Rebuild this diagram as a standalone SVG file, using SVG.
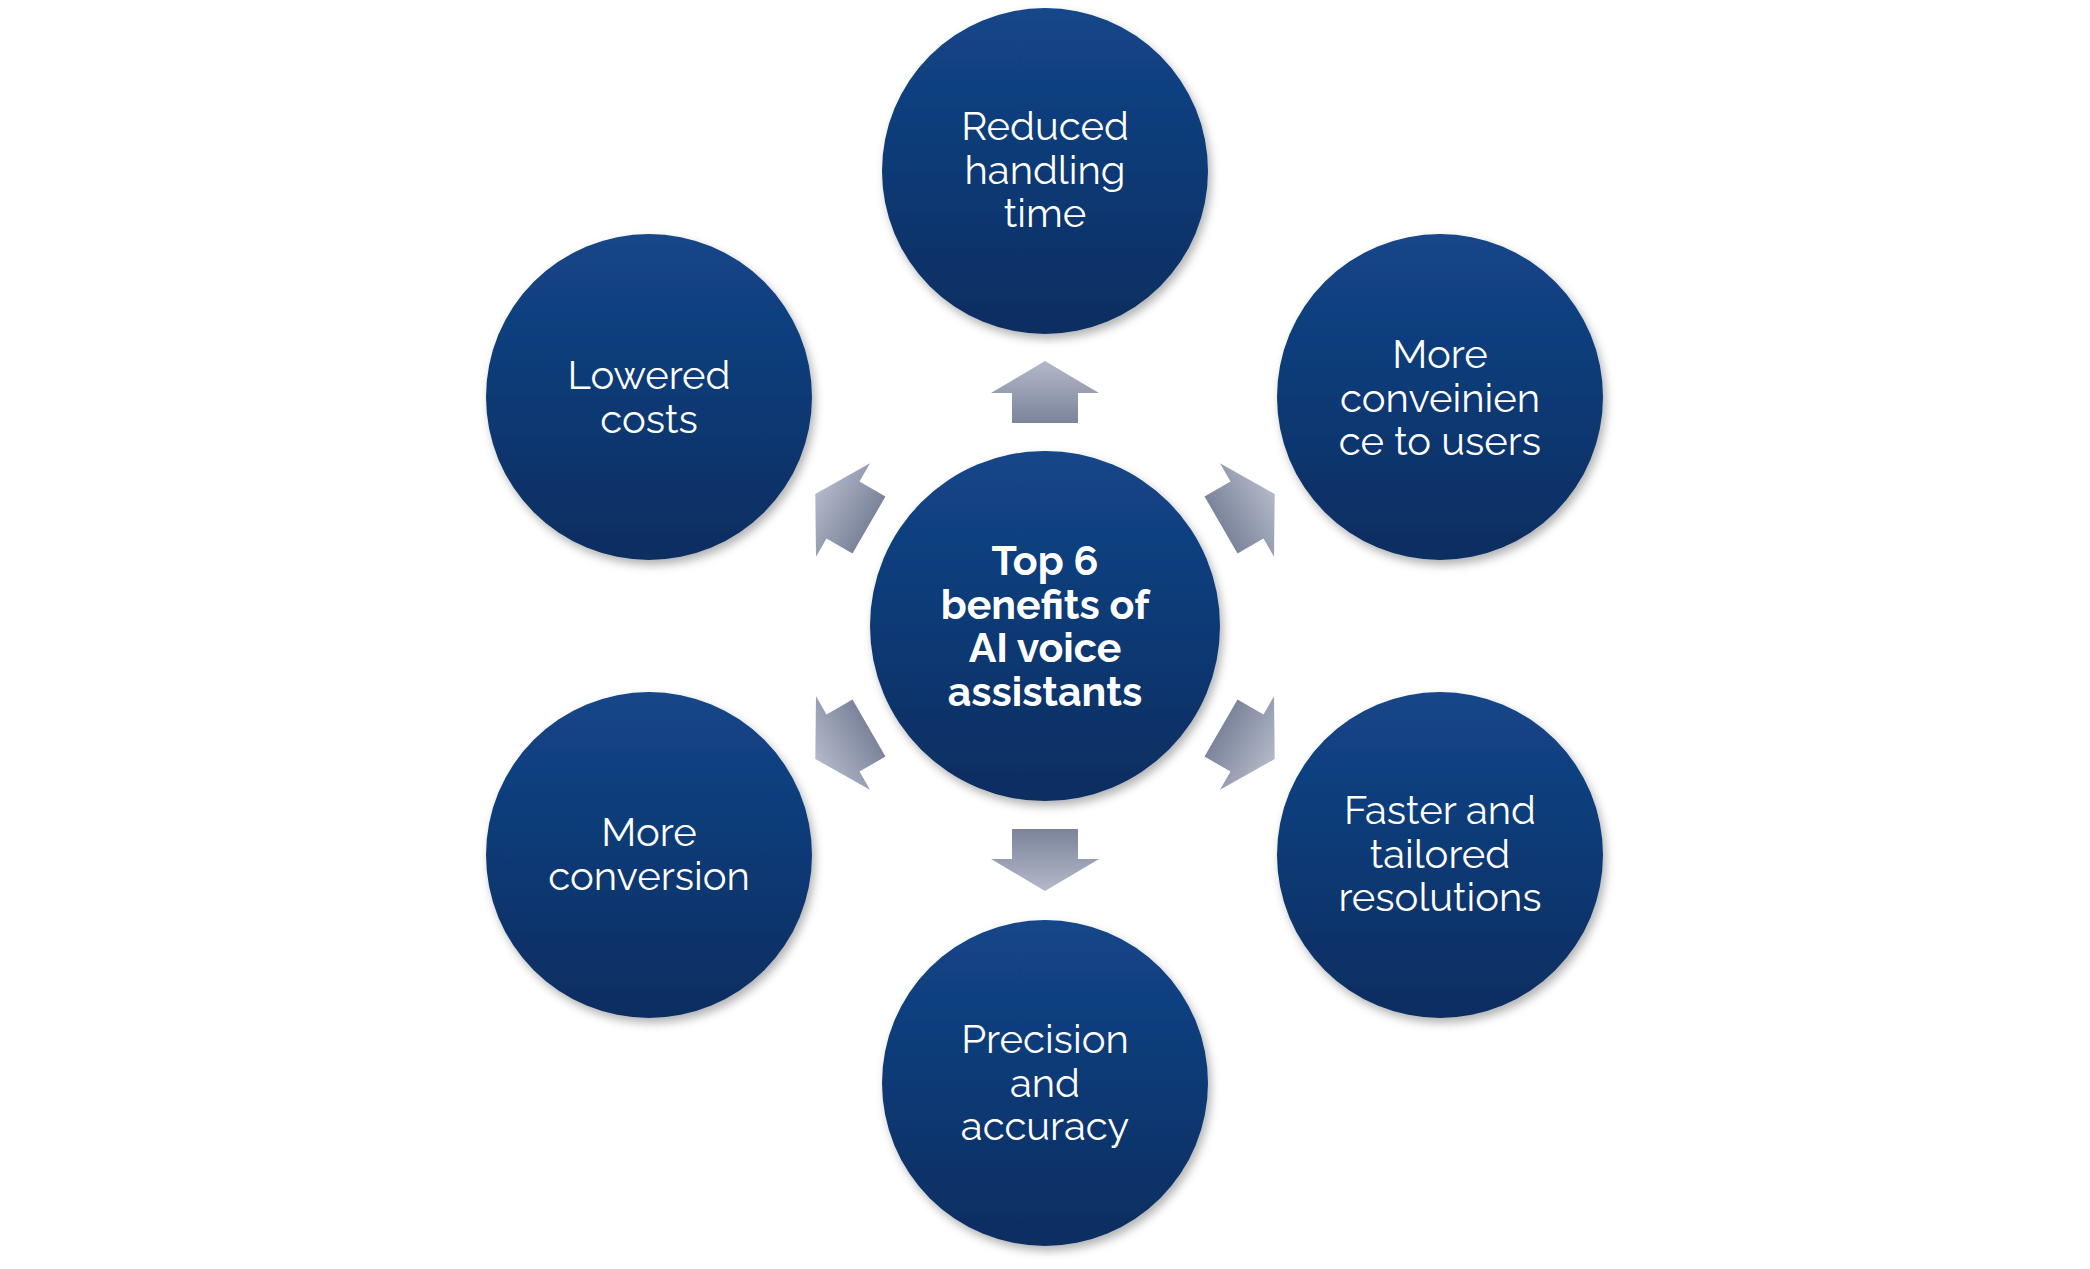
<svg xmlns="http://www.w3.org/2000/svg" width="2090" height="1269" viewBox="0 0 2090 1269">
<defs>
<linearGradient id="cg" x1="0" y1="0" x2="0" y2="1"><stop offset="0" stop-color="#134689"/><stop offset="1" stop-color="#0b2d60"/></linearGradient>
<linearGradient id="ag" x1="0" y1="0" x2="1" y2="0"><stop offset="0" stop-color="#7c849b"/><stop offset="1" stop-color="#b3b9c9"/></linearGradient>
<filter id="sh" x="-20%" y="-20%" width="140%" height="140%"><feDropShadow dx="3" dy="5" stdDeviation="5" flood-color="#000" flood-opacity="0.3"/></filter>
<path id="arr" d="M-30,-33 L0,-33 L0,-54 L32,0 L0,54 L0,33 L-30,33 Z" fill="url(#ag)"/>
</defs>
<style>
circle{fill:url(#cg);filter:url(#sh)}
text{font-family:Raleway,"Open Sans",Lato,sans-serif;fill:#fff;font-size:40px;text-anchor:middle;dominant-baseline:central}
.b{font-weight:bold;font-size:41px}
</style>
<rect width="2090" height="1269" fill="#fff"/>
<g id="connectors">
<use href="#arr" transform="translate(1045,393) rotate(-90)"/>
<use href="#arr" transform="translate(1247,510) rotate(-30)"/>
<use href="#arr" transform="translate(1247,743) rotate(30)"/>
<use href="#arr" transform="translate(1045,859) rotate(90)"/>
<use href="#arr" transform="translate(843,743) rotate(150)"/>
<use href="#arr" transform="translate(843,510) rotate(210)"/>
</g>
<g id="center"><circle cx="1045" cy="626" r="175"/>
<text class="b" x="1045" y="560">Top 6</text><text class="b" x="1045" y="604">benefits of</text><text class="b" x="1045" y="647">AI voice</text><text class="b" x="1045" y="691">assistants</text></g>
<g id="n1"><circle cx="1045" cy="171" r="163"/>
<text x="1045" y="125">Reduced</text><text x="1045" y="169">handling</text><text x="1045" y="212">time</text></g>
<g id="n2"><circle cx="1440" cy="397" r="163"/>
<text x="1440" y="353">More</text><text x="1440" y="397">conveinien</text><text x="1440" y="440">ce to users</text></g>
<g id="n3"><circle cx="1440" cy="855" r="163"/>
<text x="1440" y="809">Faster and</text><text x="1440" y="853">tailored</text><text x="1440" y="896">resolutions</text></g>
<g id="n4"><circle cx="1045" cy="1083" r="163"/>
<text x="1045" y="1038">Precision</text><text x="1045" y="1082">and</text><text x="1045" y="1125">accuracy</text></g>
<g id="n5"><circle cx="649" cy="855" r="163"/>
<text x="649" y="831">More</text><text x="649" y="875">conversion</text></g>
<g id="n6"><circle cx="649" cy="397" r="163"/>
<text x="649" y="374">Lowered</text><text x="649" y="418">costs</text></g>
</svg>
